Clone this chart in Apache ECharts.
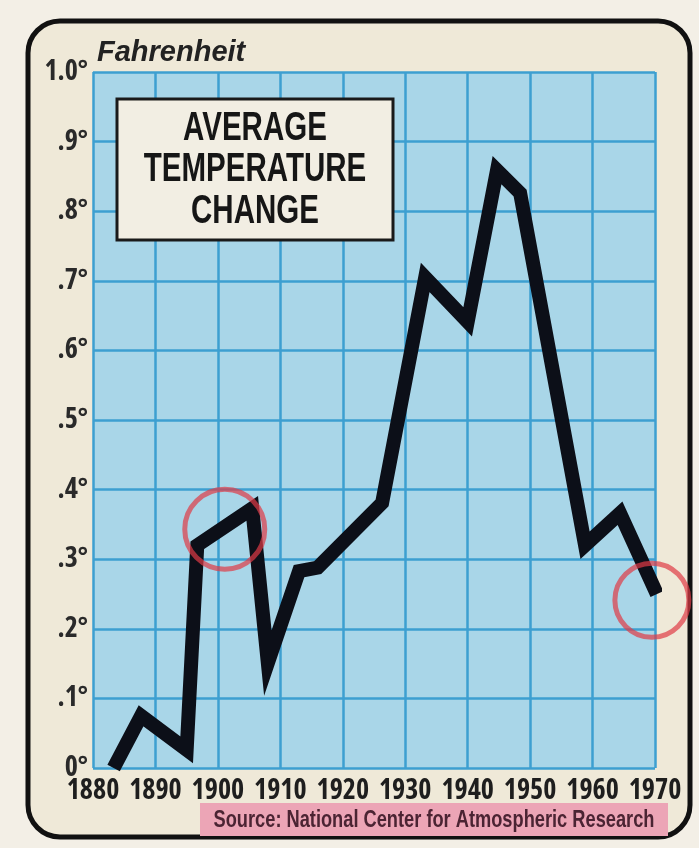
<!DOCTYPE html>
<html>
<head>
<meta charset="utf-8">
<script src="https://cdn.jsdelivr.net/npm/echarts@6/dist/echarts.min.js"></script>
<style>
  html, body { margin: 0; padding: 0; background: #f3efe6; }
  #chart { width: 699px; height: 848px; }
</style>
</head>
<body>
<div id="chart"></div>
<script>
// ---- data ----
var years = [1883.3, 1887.7, 1895, 1896.7, 1905.5, 1908, 1913, 1916, 1926.3, 1933.2, 1940, 1944.7, 1948.4, 1958.8, 1964.4, 1970.3];
var tempChange = [0, 0.075, 0.026, 0.32, 0.373, 0.151, 0.283, 0.288, 0.381, 0.705, 0.641, 0.859, 0.826, 0.32, 0.366, 0.25];
var xTickLabels = ['1880', '1890', '1900', '1910', '1920', '1930', '1940', '1950', '1960', '1970'];
var yTickLabels = ['0°', '.1°', '.2°', '.3°', '.4°', '.5°', '.6°', '.7°', '.8°', '.9°', '1.0°'];
var circleYears = [1901.1, 1969.5];
var circleValues = [0.343, 0.241];
var titleLines = ['AVERAGE', 'TEMPERATURE', 'CHANGE'];
var sourceText = 'Source: National Center for Atmospheric Research';
var unitName = 'Fahrenheit';

var chart = echarts.init(document.getElementById('chart'), null, { renderer: 'canvas' });
var tickFont = '"Open Sans", "DejaVu Sans Condensed", sans-serif';
var circleSizes = [80, 74];

var option = {
  backgroundColor: '#f3efe6',
  animation: false,
  grid: {
    left: 93, right: 44, top: 72, bottom: 80,
    show: true, backgroundColor: '#a9d6e8', borderWidth: 0
  },
  xAxis: {
    type: 'value', min: 1880, max: 1970, interval: 10,
    axisLine: { show: false }, axisTick: { show: false },
    splitLine: { show: true, lineStyle: { color: '#3d9fd1', width: 2.5 } },
    axisLabel: {
      margin: 9, color: '#1e1e1e', fontFamily: tickFont, fontWeight: 'bold condensed', fontSize: 28,
      showMinLabel: true, showMaxLabel: true,
      formatter: function (v) { return xTickLabels[Math.round((v - 1880) / 10)]; }
    }
  },
  yAxis: {
    type: 'value', min: 0, max: 1, interval: 0.1,
    name: unitName, nameLocation: 'end', nameGap: 19,
    nameTextStyle: {
      align: 'left', verticalAlign: 'middle', padding: [0, 0, 0, 4],
      fontFamily: '"Liberation Sans", Arial, sans-serif', fontStyle: 'italic', fontWeight: 'bold',
      fontSize: 29, color: '#222'
    },
    axisLine: { show: false }, axisTick: { show: false },
    splitLine: { show: true, lineStyle: { color: '#3d9fd1', width: 2.5 } },
    axisLabel: {
      margin: 5, color: '#2a2a2a', fontFamily: tickFont, fontWeight: 'bold condensed', fontSize: 28,
      showMinLabel: true, showMaxLabel: true,
      formatter: function (v) { return yTickLabels[Math.round(v * 10)]; }
    }
  },
  graphic: {
    elements: [
      {
        type: 'rect', z: -10, silent: true,
        shape: { x: 28, y: 21, width: 662, height: 816, r: 32 },
        style: { fill: '#efe9d8', stroke: '#111', lineWidth: 5 }
      },
      {
        type: 'rect', z: 50, silent: true,
        shape: { x: 117, y: 99, width: 276, height: 141 },
        style: { fill: '#f2eee3', stroke: '#1a1a1a', lineWidth: 3 }
      },
      {
        type: 'text', z: 51, silent: true, x: 255, y: 129, scaleX: 0.72,
        style: { text: titleLines[0], fill: '#161616', font: 'bold 41px "Liberation Sans", Arial, sans-serif', align: 'center', verticalAlign: 'middle' }
      },
      {
        type: 'text', z: 51, silent: true, x: 255, y: 170, scaleX: 0.72,
        style: { text: titleLines[1], fill: '#161616', font: 'bold 41px "Liberation Sans", Arial, sans-serif', align: 'center', verticalAlign: 'middle' }
      },
      {
        type: 'text', z: 51, silent: true, x: 255, y: 212, scaleX: 0.72,
        style: { text: titleLines[2], fill: '#161616', font: 'bold 41px "Liberation Sans", Arial, sans-serif', align: 'center', verticalAlign: 'middle' }
      },
      {
        type: 'rect', z: 50, silent: true,
        shape: { x: 200, y: 803, width: 468, height: 33 },
        style: { fill: '#eca5b6' }
      },
      {
        type: 'text', z: 51, silent: true, x: 434, y: 820, scaleX: 0.76,
        style: { text: sourceText, fill: '#4b2433', font: 'bold 24px "Liberation Sans", Arial, sans-serif', align: 'center', verticalAlign: 'middle' }
      }
    ]
  },
  series: [
    {
      type: 'line', z: 3,
      data: years.map(function (y, i) { return [y, tempChange[i]]; }),
      symbol: 'none', smooth: false,
      lineStyle: { color: '#0c0f18', width: 14, join: 'miter', cap: 'butt' }
    },
    {
      type: 'scatter', z: 6, clip: false, silent: true,
      data: circleYears.map(function (y, i) { return [y, circleValues[i]]; }),
      symbol: 'circle',
      symbolSize: function (val, params) { return circleSizes[params.dataIndex]; },
      itemStyle: { color: 'rgba(0,0,0,0)', borderColor: 'rgba(224,58,70,0.88)', borderWidth: 5 }
    }
  ]
};
chart.setOption(option);
</script>
</body>
</html>
